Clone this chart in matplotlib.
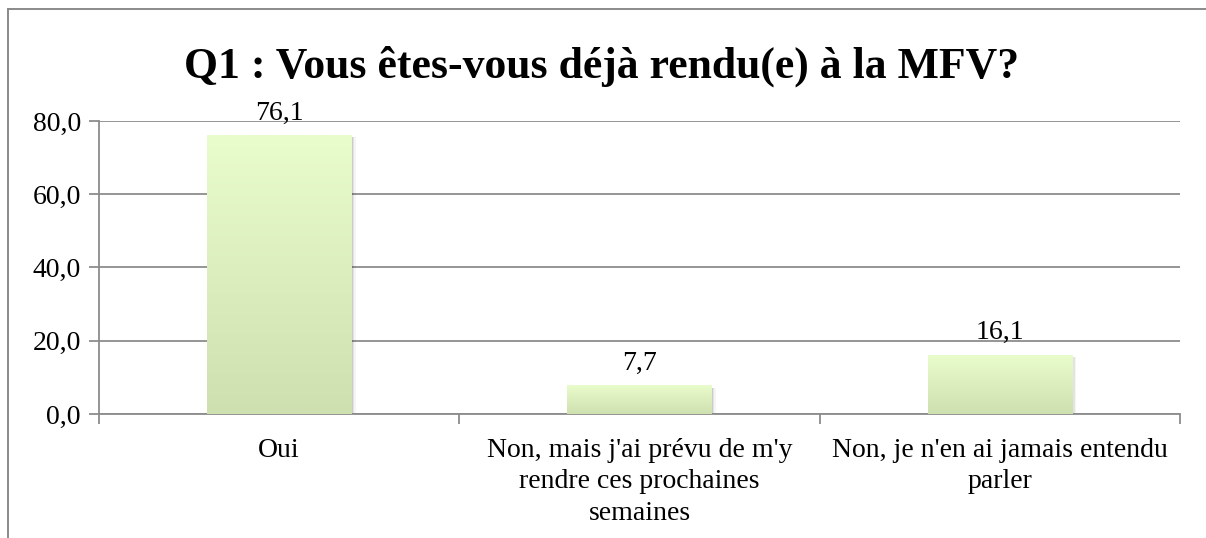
import numpy as np
import matplotlib
matplotlib.use('Agg')
import matplotlib.pyplot as plt
from matplotlib.lines import Line2D
from matplotlib.patches import Rectangle
from matplotlib.colors import LinearSegmentedColormap

# Data
categories = ["Oui",
              "Non, mais j'ai prévu de m'y\nrendre ces prochaines\nsemaines",
              "Non, je n'en ai jamais entendu\nparler"]
values = [76.1, 7.7, 16.1]
yticks = [0, 20, 40, 60, 80]
title = "Q1 : Vous êtes-vous déjà rendu(e) à la MFV?"

serif = ['Liberation Serif', 'DejaVu Serif']
grid_col = '#8c8c8c'

fig = plt.figure(figsize=(12.06, 5.38), dpi=100)
ax = fig.add_axes([0.0821, 0.2305, 0.8963, 0.5446])

# chart border (cut off right & bottom like the screenshot)
fig.add_artist(Line2D([8/1206, 8/1206], [0, 1 - 9/538], color='#8a8a8a', lw=1.4,
                      transform=fig.transFigure))
fig.add_artist(Line2D([8/1206, 1], [1 - 9/538, 1 - 9/538], color='#8a8a8a', lw=1.4,
                      transform=fig.transFigure))

x = np.arange(len(values))
width = 0.4

# gradient fill for the bars
cmap = LinearSegmentedColormap.from_list('g', ['#cfe0b0', '#e9fccb'])
grad = np.linspace(0, 1, 256).reshape(-1, 1)
for xi, v in zip(x, values):
    # soft shadow
    for k, a in enumerate([0.10, 0.07, 0.04]):
        d = 0.004 * (k + 1)
        ax.add_patch(Rectangle((xi - width/2 + d, -0.6 - 0.3*k), width, v + 0.3*k,
                               color='black', alpha=a, lw=0, zorder=2))
    ax.imshow(grad, cmap=cmap, origin='lower', aspect='auto',
              extent=(xi - width/2, xi + width/2, 0, v), zorder=3)
    ax.annotate(f"{v:.1f}".replace('.', ','), (xi, v), xytext=(0, 7),
                textcoords='offset points', ha='center', va='bottom',
                fontsize=20, family=serif)

ax.set_xlim(-0.5, len(values) - 0.5)
ax.set_ylim(0, 80)

ax.set_yticks(yticks)
ax.set_yticklabels([f"{t:.1f}".replace('.', ',') for t in yticks], family=serif, fontsize=20)
ax.yaxis.grid(True, color=grid_col, lw=1.3, zorder=1)
ax.set_axisbelow(True)

ax.set_xticks(x)
ax.set_xticklabels(categories, family=serif, fontsize=20, linespacing=1.34)
ax.tick_params(axis='x', length=0, pad=17)
ax.set_xticks(np.arange(len(values) + 1) - 0.5, minor=True)
ax.tick_params(axis='x', which='minor', length=7, width=1.3, color=grid_col)
ax.tick_params(axis='y', length=7, width=1.3, color=grid_col, pad=6)

for s in ['top', 'right']:
    ax.spines[s].set_visible(False)
for s in ['left', 'bottom']:
    ax.spines[s].set_color(grid_col)
    ax.spines[s].set_linewidth(1.3)

fig.text(0.499, 1 - 78/538, title, ha='center', va='baseline', fontsize=31.5,
         fontweight='bold', family=serif)

fig.savefig('out.png', dpi=100)
